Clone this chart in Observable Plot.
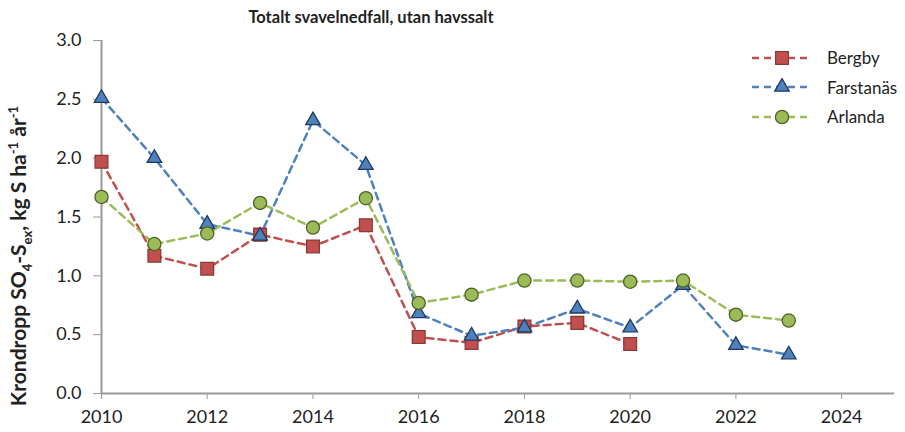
<!DOCTYPE html>
<html>
<head>
<meta charset="utf-8">
<script src="https://cdn.jsdelivr.net/npm/d3@7"></script>
<script src="https://cdn.jsdelivr.net/npm/@observablehq/plot@0.6"></script>
<style>
  html, body { margin:0; padding:0; background:#fff; }
  #wrap { position:relative; width:905px; height:432px; font-family:Lato, "Open Sans", sans-serif; color:#222; }
  #title { position:absolute; top:7px; left:121px; width:500px; text-align:center; font-weight:bold; font-size:16.5px; z-index:2; }
  #chart { position:absolute; top:20px; left:0; }
  #ylabel { position:absolute; left:20px; top:256px; transform:translate(-50%,-50%) rotate(-90deg); white-space:nowrap; font-weight:bold; font-size:21px; }
  #ylabel sub, #ylabel sup { font-size:13px; }
  #legend { position:absolute; left:750px; top:43px; font-size:17px; }
  .lg { display:flex; align-items:center; height:29.5px; }
  .lg svg { margin-right:13px; }
</style>
</head>
<body>
<div id="wrap">
  <div id="chart"></div>
  <div id="title">Totalt svavelnedfall, utan havssalt</div>
  <div id="ylabel">Krondropp SO<sub>4</sub>-S<sub>ex</sub>, kg S ha<sup>-1</sup> år<sup>-1</sup></div>
  <div id="legend"></div>
</div>
<script>
const years = [2010,2011,2012,2013,2014,2015,2016,2017,2018,2019,2020,2021,2022,2023];
const bergby = [1.97,1.17,1.06,1.35,1.25,1.43,0.48,0.43,0.57,0.60,0.42];
const farstanas = [2.51,2.00,1.44,1.34,2.32,1.94,0.68,0.49,0.56,0.72,0.56,0.92,0.41,0.33];
const arlanda = [1.67,1.27,1.36,1.62,1.41,1.66,0.77,0.84,0.96,0.96,0.95,0.96,0.67,0.62];
const seriesNames = ["Bergby","Farstanäs","Arlanda"];
const xTicks = [2010,2012,2014,2016,2018,2020,2022,2024];
const yTicks = [0,0.5,1,1.5,2,2.5,3];

const styles = {
  "Bergby":   {line:"#C0504D", fill:"#C0504D", stroke:"#8C3836", symbol:"square", r:7.2},
  "Farstanäs":{line:"#4F81BD", fill:"#4F81BD", stroke:"#1F3A60", symbol:"triangle", r:5.4},
  "Arlanda":  {line:"#9BBB59", fill:"#9BBB59", stroke:"#4F6228", symbol:"circle", r:6.6}
};

const toRows = (vals) => vals.map((v,i)=>({year:years[i], value:v}));
const data = {"Bergby":toRows(bergby), "Farstanäs":toRows(farstanas), "Arlanda":toRows(arlanda)};

const marks = [
  Plot.axisY({ticks:yTicks, tickFormat:d3.format(".1f"), label:null, tickSize:8, tickPadding:12, fontSize:18, stroke:"#999", fill:"#222"}),
  Plot.axisX({ticks:xTicks, tickFormat:d=>String(d), label:null, tickSize:6, tickPadding:11, fontSize:18, stroke:"#999", fill:"#222"}),
  Plot.ruleX([2010], {stroke:"#999", strokeWidth:2}),
  Plot.ruleY([0], {stroke:"#999", strokeWidth:2})
];
for (const name of seriesNames) {
  const s = styles[name];
  marks.push(Plot.line(data[name], {x:"year", y:"value", stroke:s.line, strokeWidth:2.5, strokeDasharray:"7,5"}));
}
for (const name of seriesNames) {
  const s = styles[name];
  marks.push(Plot.dot(data[name], {x:"year", y:"value", symbol:s.symbol, r:s.r, fill:s.fill, stroke:s.stroke, strokeWidth:1.3}));
}

const chart = Plot.plot({
  width:905, height:412,
  marginLeft:101, marginRight:11, marginTop:20, marginBottom:39,
  style:{fontFamily:"Lato, 'Open Sans', sans-serif", fontSize:"18px", background:"transparent"},
  x:{domain:[2010,2025], axis:null},
  y:{domain:[0,3], axis:null},
  marks
});
document.getElementById("chart").appendChild(chart);

// legend
const leg = document.getElementById("legend");
for (const name of seriesNames) {
  const s = styles[name];
  const row = document.createElement("div");
  row.className = "lg";
  const sym = d3.symbol(s.symbol === "square" ? d3.symbolSquare : s.symbol === "triangle" ? d3.symbolTriangle : d3.symbolCircle, s.r*s.r*Math.PI)();
  row.innerHTML = `<svg width="64" height="18"><line x1="2" y1="9" x2="62" y2="9" stroke="${s.line}" stroke-width="2.5" stroke-dasharray="7,5"/><path d="${sym}" transform="translate(32,9)" fill="${s.fill}" stroke="${s.stroke}" stroke-width="1.3"/></svg><span>${name}</span>`;
  leg.appendChild(row);
}
</script>
</body>
</html>
